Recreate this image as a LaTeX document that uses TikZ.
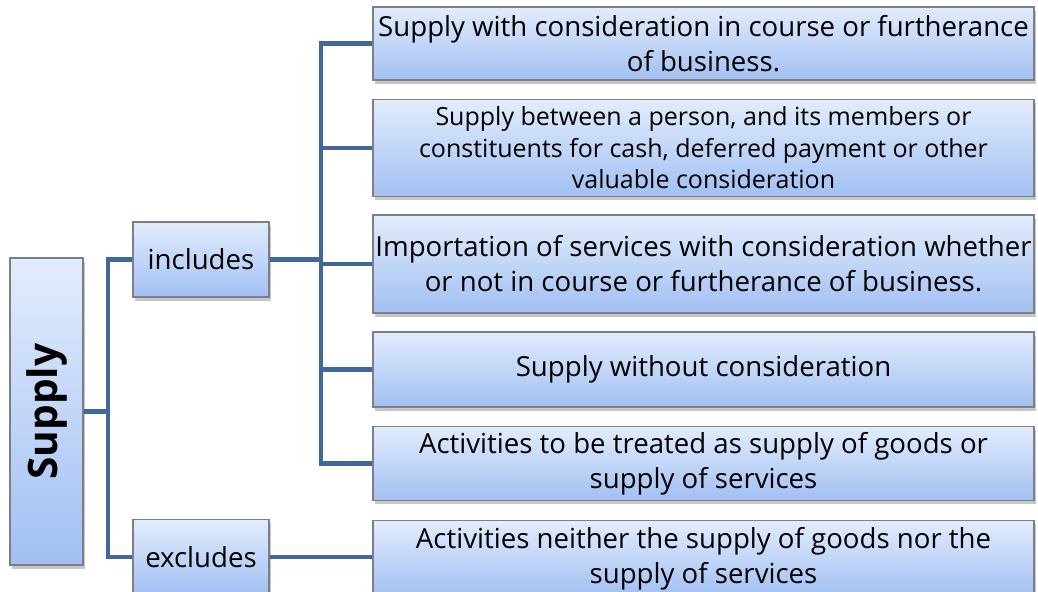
\documentclass[tikz,border=0pt]{standalone}
\usepackage{fontspec}
\setmainfont{Open Sans}
\usetikzlibrary{shadows}
\definecolor{linkblue}{HTML}{41689C}
\definecolor{boxtop}{HTML}{E2ECFC}
\definecolor{boxbot}{HTML}{A2C0F3}
\definecolor{boxline}{HTML}{7A7F88}
\tikzset{
  box/.style={draw=boxline, line width=0.6pt, top color=boxtop, bottom color=boxbot,
    drop shadow={shadow xshift=1pt, shadow yshift=-2pt, opacity=0.45},
    inner sep=0pt, align=center, font=\fontsize{13.8}{17.5}\selectfont},
  wide/.style={box, minimum width=330.5pt},
  link/.style={draw=linkblue, line width=2.2pt}
}
\begin{document}
\begin{tikzpicture}[x=0.5pt, y=-0.5pt]
    \useasboundingbox (0,0) rectangle (1038,592);
    % Root and the two branches
    \node[box, minimum width=36.5pt, minimum height=153.5pt, font=\fontsize{20.3}{22}\selectfont\bfseries] (supply) at (46.5,411.5) {\rotatebox{90}{Supply}};
    \node[box, minimum width=68pt, minimum height=37.5pt] (inc) at (201,259.5) {includes};
    \node[box, minimum width=68pt, minimum height=37.5pt] (exc) at (201,557) {excludes};
    % Items
    \node[wide, minimum height=36.5pt] (b1) at (703.5,43.5) {Supply with consideration in course or furtherance\\of business.};
    \node[wide, minimum height=48.5pt, font=\fontsize{12.5}{15.8}\selectfont] (b2) at (703.5,148) {Supply between a person, and its members or\\constituents for cash, deferred payment or other\\valuable consideration};
    \node[wide, minimum height=49pt] (b3) at (703.5,264) {Importation of services with consideration whether\\or not in course or furtherance of business.};
    \node[wide, minimum height=37.5pt] (b4) at (703.5,369.5) {Supply without consideration};
    \node[wide, minimum height=37pt] (b5) at (703.5,463.5) {Activities to be treated as supply of goods or\\supply of services};
    \node[wide, minimum height=38pt] (b6) at (703.5,558.5) {Activities neither the supply of goods nor the\\supply of services};
    % Connectors
    \coordinate (bus1) at (108,0);
    \coordinate (bus2) at (321,0);
    \draw[link] (supply.east) -- (supply.east -| bus1);
    \draw[link] (inc.west) -| (bus1 |- supply.east) |- (exc.west);
    \foreach \b in {b1,b2,b3,b4,b5}
        \draw[link] (inc.east) -| (bus2 |- \b.west) -- (\b.west);
    \draw[link] (exc.east) -- (exc.east -| b6.west);
\end{tikzpicture}
\end{document}
